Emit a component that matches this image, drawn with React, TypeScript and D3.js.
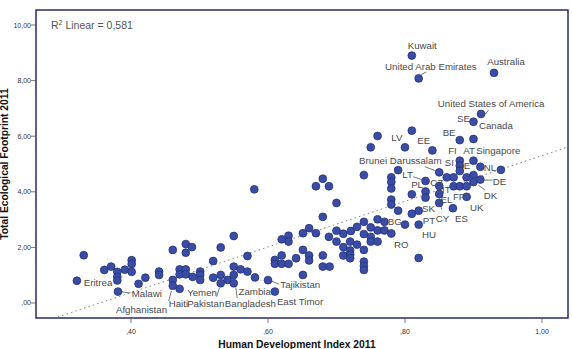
import React from 'react';
import * as d3 from 'd3';

// HDI 2011 (x) and ecological footprint 2011 (y)
const hdi = [
  0.321, 0.331, 0.361, 0.371, 0.380, 0.380, 0.380, 0.391, 0.401, 0.401,
  0.401, 0.381, 0.411, 0.421, 0.441, 0.441, 0.461, 0.480, 0.480, 0.489,
  0.471, 0.480, 0.471, 0.480, 0.490, 0.461, 0.461, 0.471, 0.501, 0.501,
  0.501, 0.520, 0.531, 0.550, 0.520, 0.531, 0.531, 0.541, 0.550, 0.550,
  0.560, 0.550, 0.570, 0.570, 0.581, 0.580, 0.600, 0.610, 0.610, 0.610,
  0.620, 0.630, 0.620, 0.620, 0.630, 0.630, 0.641, 0.651, 0.660, 0.670,
  0.651, 0.660, 0.660, 0.651, 0.680, 0.670, 0.680, 0.689, 0.680, 0.680,
  0.690, 0.689, 0.700, 0.700, 0.700, 0.710, 0.721, 0.730, 0.740, 0.750,
  0.760, 0.770, 0.760, 0.770, 0.780, 0.740, 0.750, 0.710, 0.720, 0.730,
  0.710, 0.720, 0.720, 0.720, 0.740, 0.740, 0.740, 0.740, 0.750, 0.760,
  0.740, 0.750, 0.760, 0.790, 0.780, 0.780, 0.780, 0.780, 0.780, 0.790,
  0.810, 0.800, 0.820, 0.820, 0.820, 0.810, 0.810, 0.800, 0.840, 0.830,
  0.830, 0.830, 0.850, 0.850, 0.850, 0.850, 0.880, 0.900, 0.880, 0.880,
  0.900, 0.910, 0.940, 0.861, 0.871, 0.880, 0.890, 0.900, 0.900, 0.910,
  0.871, 0.880, 0.890, 0.890, 0.870, 0.810, 0.820, 0.930, 0.911, 0.900,
];
const footprint = [
  0.80, 1.72, 1.19, 1.31, 1.12, 0.94, 0.81, 1.20, 1.54, 1.40,
  1.12, 0.41, 0.69, 0.91, 1.13, 1.01, 1.91, 2.12, 1.81, 2.01,
  1.21, 1.21, 1.03, 1.03, 0.94, 0.83, 0.62, 0.51, 1.13, 1.01,
  0.83, 1.51, 2.00, 2.41, 0.91, 1.01, 0.71, 0.83, 1.01, 1.31,
  1.21, 0.71, 1.69, 1.13, 0.92, 4.09, 0.82, 0.41, 1.55, 1.41,
  1.41, 1.41, 1.71, 2.29, 2.42, 2.21, 1.61, 2.51, 2.69, 2.51,
  1.91, 1.71, 1.53, 1.01, 3.10, 4.20, 4.47, 4.20, 1.71, 1.31,
  1.31, 2.38, 3.60, 2.21, 2.60, 2.49, 2.59, 2.74, 2.92, 2.72,
  3.01, 2.92, 2.61, 2.61, 2.50, 2.48, 2.38, 2.01, 2.21, 2.10,
  1.71, 1.89, 1.74, 1.61, 1.91, 1.49, 1.33, 1.19, 2.21, 2.21,
  4.60, 5.60, 6.01, 4.78, 4.52, 4.35, 4.12, 3.72, 3.54, 3.32,
  3.91, 2.82, 2.82, 1.62, 3.32, 3.21, 6.20, 5.60, 5.49, 4.39,
  4.01, 3.79, 4.70, 4.21, 3.92, 3.60, 5.86, 5.90, 5.12, 4.94,
  5.12, 4.90, 4.79, 4.52, 4.52, 4.75, 4.52, 4.60, 4.35, 4.44,
  4.20, 4.20, 4.20, 3.82, 3.41, 8.90, 8.08, 8.28, 6.80, 6.52,
];

// linear fit shown in the chart
const fitIntercept = -2.91;
const fitSlope = 8.21;
const rSquared = '0,581';

const xTicks = [0.4, 0.6, 0.8, 1.0];
const yTicks = [0, 2, 4, 6, 8, 10];

// point labels (text start, in data units)
const labels = [
  { text: 'Kuwait', x: 0.804, y: 9.28 },
  { text: 'United Arab Emirates', x: 0.771, y: 8.49 },
  { text: 'Australia', x: 0.920, y: 8.67 },
  { text: 'United States of America', x: 0.848, y: 7.19 },
  { text: 'SE', x: 0.876, y: 6.65 },
  { text: 'Canada', x: 0.908, y: 6.37 },
  { text: 'LV', x: 0.780, y: 5.97 },
  { text: 'EE', x: 0.818, y: 5.84 },
  { text: 'BE', x: 0.855, y: 6.12 },
  { text: 'FI', x: 0.863, y: 5.48 },
  { text: 'AT', x: 0.885, y: 5.48 },
  { text: 'Singapore', x: 0.904, y: 5.50 },
  { text: 'Brunei Darussalam', x: 0.733, y: 5.11 },
  { text: 'SI', x: 0.858, y: 5.04 },
  { text: 'IE', x: 0.882, y: 4.96 },
  { text: 'NL', x: 0.915, y: 4.86 },
  { text: 'LT', x: 0.796, y: 4.64 },
  { text: 'CZ', x: 0.837, y: 4.32 },
  { text: 'PL', x: 0.809, y: 4.26 },
  { text: 'IT', x: 0.854, y: 4.10 },
  { text: 'DE', x: 0.928, y: 4.36 },
  { text: 'DK', x: 0.915, y: 3.88 },
  { text: 'EL', x: 0.852, y: 3.74 },
  { text: 'FR', x: 0.870, y: 3.82 },
  { text: 'SK', x: 0.825, y: 3.41 },
  { text: 'UK', x: 0.895, y: 3.43 },
  { text: 'PT', x: 0.826, y: 2.96 },
  { text: 'CY', x: 0.845, y: 3.05 },
  { text: 'ES', x: 0.873, y: 3.05 },
  { text: 'BG', x: 0.775, y: 2.92 },
  { text: 'HU', x: 0.825, y: 2.45 },
  { text: 'RO', x: 0.784, y: 2.12 },
  { text: 'Eritrea', x: 0.331, y: 0.72 },
  { text: 'Malawi', x: 0.401, y: 0.35 },
  { text: 'Afghanistan', x: 0.378, y: -0.25 },
  { text: 'Haiti', x: 0.455, y: -0.01 },
  { text: 'Pakistan', x: 0.482, y: -0.01 },
  { text: 'Yemen', x: 0.482, y: 0.38 },
  { text: 'Bangladesh', x: 0.537, y: -0.01 },
  { text: 'Zambia', x: 0.557, y: 0.40 },
  { text: 'Tajikistan', x: 0.618, y: 0.65 },
  { text: 'East Timor', x: 0.613, y: 0.05 },
];

// leader lines from label to point
const leaders = [
  [0.386, 0.40, 0.399, 0.36],
  [0.455, 0.07, 0.459, 0.43],
  [0.525, 0.22, 0.529, 0.54],
  [0.555, 0.18, 0.553, 0.56],
  [0.605, 0.79, 0.616, 0.68],
  [0.922, 6.94, 0.915, 6.72],
  [0.824, 8.22, 0.831, 8.31],
  [0.829, 4.90, 0.849, 4.72],
  [0.812, 4.54, 0.829, 4.40],
  [0.912, 4.42, 0.928, 4.42],
  [0.907, 4.24, 0.917, 4.06],
  [0.851, 3.59, 0.854, 3.35],
];

const fmt = (v: number) => {
  const s = v.toFixed(2).replace('.', ',');
  return s.startsWith('0,') ? s.slice(1) : s;
};

const App = () => {
  const width = 572;
  const height = 349;
  const frame = { left: 36, right: 568, top: 10, bottom: 318 };

  const x = d3.scaleLinear().domain([0.2613, 1.038]).range([frame.left, frame.right]);
  const y = d3.scaleLinear().domain([-0.54, 10.54]).range([frame.bottom, frame.top]);

  const [x0, x1] = x.domain();
  const fitLine = d3.line<number>()
    .x(d => x(d))
    .y(d => y(fitIntercept + fitSlope * d))([x0, x1]);

  const font = "'Liberation Sans', Arial, sans-serif";
  const frameColor = '#2a2a66';

  return (
    <svg width={width} height={height} style={{ position: 'absolute', left: 0, top: 0, background: '#fff' }} fontFamily={font}>
      <defs>
        <clipPath id="plot">
          <rect x={frame.left} y={frame.top} width={frame.right - frame.left} height={frame.bottom - frame.top} />
        </clipPath>
      </defs>

      {/* fit line */}
      <path d={fitLine || ''} stroke="#8a8a8a" strokeWidth={1} strokeDasharray="1.6,3" fill="none" clipPath="url(#plot)" />

      {/* leaders */}
      {leaders.map((l, i) => (
        <line key={i} x1={x(l[0])} y1={y(l[1])} x2={x(l[2])} y2={y(l[3])} stroke="#555" strokeWidth={0.8} />
      ))}

      {/* points */}
      {hdi.map((h, i) => (
        <circle key={i} cx={x(h)} cy={y(footprint[i])} r={3.9} fill="#3a4ca4" stroke="#25327d" strokeWidth={0.8} />
      ))}

      {/* labels */}
      {labels.map(l => (
        <text key={l.text} x={x(l.x)} y={y(l.y)} dominantBaseline="central" fontSize={9.7} fill="#4a4a4a">
          {l.text}
        </text>
      ))}

      {/* R squared */}
      <text x={51} y={29} fontSize={10.5} fill="#555">
        R<tspan fontSize={7} dy={-4}>2</tspan><tspan dy={4}> Linear = {rSquared}</tspan>
      </text>

      {/* frame */}
      <rect x={frame.left} y={frame.top} width={frame.right - frame.left} height={frame.bottom - frame.top}
        fill="none" stroke={frameColor} strokeWidth={1.5} />

      {/* y axis */}
      {yTicks.map(t => (
        <g key={t} transform={`translate(0,${y(t)})`}>
          <line x1={frame.left - 5} x2={frame.left} stroke="#555" strokeWidth={0.8} />
          <text x={frame.left - 5} textAnchor="end" dominantBaseline="central" fontSize={7} fill="#333">{fmt(t)}</text>
        </g>
      ))}
      <text transform={`translate(8,${164}) rotate(-90)`} textAnchor="middle" fontSize={10.3} fontWeight="bold" fill="#111">
        Total Ecological Footprint 2011
      </text>

      {/* x axis */}
      {xTicks.map(t => (
        <g key={t} transform={`translate(${x(t)},0)`}>
          <line y1={frame.bottom} y2={frame.bottom + 5} stroke="#555" strokeWidth={0.8} />
          <text y={frame.bottom + 13} textAnchor="middle" dominantBaseline="central" fontSize={7} fill="#333">{fmt(t)}</text>
        </g>
      ))}
      <text x={297} y={347.5} textAnchor="middle" fontSize={10.3} fontWeight="bold" fill="#111">
        Human Development Index 2011
      </text>
    </svg>
  );
};

export default App;
